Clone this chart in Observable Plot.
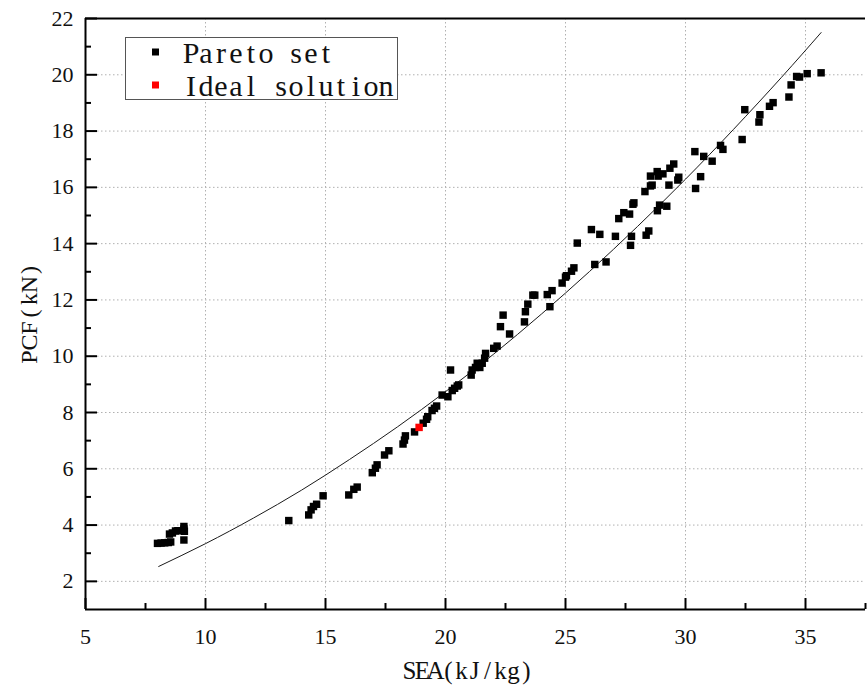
<!DOCTYPE html>
<html><head><meta charset="utf-8">
<script src="https://cdn.jsdelivr.net/npm/d3@7"></script>
<script src="https://cdn.jsdelivr.net/npm/@observablehq/plot@0.6"></script>
<style>
body{margin:0;background:#fff;}
#wrap{position:relative;width:867px;height:688px;}
</style></head><body><div id="wrap"></div>
<script>
// ---- data ----
const paretoSEA = [
8.00, 8.15, 8.30, 8.45, 8.55,
8.50, 8.62, 8.75, 8.85,
9.10, 9.10, 9.12, 9.10,
13.47, 14.30, 14.40, 14.50, 14.63, 14.90,
15.97, 16.18, 16.32,
16.95, 17.08, 17.15, 17.46, 17.64,
18.23, 18.29, 18.33, 18.71,
19.07, 19.21, 19.26, 19.44, 19.54, 19.63,
19.86, 20.10, 20.21, 20.28, 20.38, 20.49, 20.55,
21.07, 21.11, 21.25, 21.32, 21.43, 21.53, 21.63, 21.67,
22.01, 22.15, 22.29, 22.40, 22.67,
23.29, 23.33, 23.43, 23.64, 23.72,
24.24, 24.44, 24.35, 24.86, 25.00, 25.04, 25.25, 25.35, 25.49,
26.22, 26.69, 26.08, 26.43, 27.08,
27.22, 27.43, 27.67, 27.81, 27.85, 27.75, 27.71,
28.36, 28.47, 28.31, 28.54, 28.61,
28.54, 28.82, 28.86, 29.06, 28.83, 28.92, 29.22,
29.31, 29.35, 29.51, 29.68, 29.72,
30.39, 30.42, 30.63, 30.76, 31.11, 31.46, 31.56,
32.36, 32.47, 33.06, 33.10, 33.50, 33.65,
34.31, 34.40, 34.63, 34.75, 35.07, 35.65
];
const paretoPCF = [
3.35, 3.36, 3.37, 3.38, 3.40,
3.68, 3.72, 3.79, 3.80,
3.95, 3.86, 3.78, 3.47,
4.16, 4.36, 4.54, 4.66, 4.74, 5.04,
5.07, 5.27, 5.35,
5.86, 6.02, 6.14, 6.49, 6.64,
6.88, 7.02, 7.17, 7.31,
7.62, 7.76, 7.85, 8.07, 8.15, 8.23,
8.62, 8.56, 9.51, 8.78, 8.86, 8.94, 8.98,
9.33, 9.51, 9.60, 9.75, 9.60, 9.75, 9.93, 10.10,
10.28, 10.36, 11.05, 11.46, 10.79,
11.22, 11.58, 11.85, 12.17, 12.17,
12.19, 12.33, 11.76, 12.60, 12.81, 12.86, 13.02, 13.14, 14.02,
13.26, 13.35, 14.50, 14.33, 14.26,
14.89, 15.10, 15.05, 15.40, 15.45, 14.26, 13.94,
14.30, 14.45, 15.85, 16.05, 16.08,
16.40, 16.56, 16.40, 16.48, 15.17, 15.37, 15.33,
16.08, 16.68, 16.83, 16.26, 16.36,
17.27, 15.96, 16.38, 17.10, 16.93, 17.49, 17.35,
17.70, 18.76, 18.32, 18.58, 18.88, 19.01,
19.21, 19.64, 19.94, 19.92, 20.04, 20.07
];
const idealSEA = [18.90];
const idealPCF = [7.47];
const fitSEA = [8.05, 10, 12, 14, 16, 18, 20, 22, 24, 26, 28, 30, 32, 34, 35.65];
const fitPCF = [2.53, 3.34, 4.25, 5.24, 6.33, 7.49, 8.74, 10.07, 11.50, 13.01, 14.61, 16.29, 18.06, 19.91, 21.50];
const xMajorTicks = [5, 10, 15, 20, 25, 30, 35];
const xMinorTicks = [7.5, 12.5, 17.5, 22.5, 27.5, 32.5, 37.5];
const yMajorTicks = [2, 4, 6, 8, 10, 12, 14, 16, 18, 20, 22];
const yMinorTicks = [3, 5, 7, 9, 11, 13, 15, 17, 19, 21];
const xDomain = [5, 37.5];
const yDomain = [1, 22];
const legendLabels = ["Pareto set", "Ideal solution"];
const legendColors = ["#000000", "#ff0000"];
const xLabel = "SEA(kJ/kg)";
const yLabel = "PCF(kN)";

// ---- layout ----
const W = 867, H = 688, mL = 85, mR = 2, mT = 18, mB = 79;
const plotW = W - mL - mR, plotH = H - mT - mB;
const serif = "'Liberation Serif', 'Times New Roman', serif";

const pareto = paretoSEA.map((x, i) => ({x, y: paretoPCF[i]}));
const ideal = idealSEA.map((x, i) => ({x, y: idealPCF[i]}));
const fit = fitSEA.map((x, i) => ({x, y: fitPCF[i]}));
const gridStyle = {stroke: "#b0b0b0", strokeWidth: 1, strokeDasharray: "1.5,2.5"};

const chart = Plot.plot({
  width: W, height: H,
  marginLeft: mL, marginRight: mR, marginTop: mT, marginBottom: mB,
  style: {fontFamily: serif, fontSize: "22px", background: "#fff", color: "#111", overflow: "visible"},
  x: {domain: xDomain, axis: null},
  y: {domain: yDomain, axis: null},
  marks: [
    Plot.ruleX(xMajorTicks.filter(d => d > xDomain[0]), {x: d => d, ...gridStyle}),
    Plot.ruleY(yMajorTicks.filter(d => d < yDomain[1]), {y: d => d, ...gridStyle}),
    Plot.line(fit, {x: "x", y: "y", curve: "natural", stroke: "#1a1a1a", strokeWidth: 1}),
    Plot.dot(pareto, {x: "x", y: "y", symbol: "square", r: 4.2, fill: legendColors[0], stroke: null}),
    Plot.dot(ideal, {x: "x", y: "y", symbol: "square", r: 4.2, fill: legendColors[1], stroke: null}),
    Plot.ruleX([xDomain[0]], {x: d => d, stroke: "#000", strokeWidth: 2}),
    Plot.ruleY([yDomain[0]], {y: d => d, stroke: "#000", strokeWidth: 2}),
    Plot.ruleY([yDomain[1]], {y: d => d, stroke: "#000", strokeWidth: 2}),
    Plot.tickX(xMajorTicks, {x: d => d, insetTop: plotH - 11, stroke: "#000", strokeWidth: 2}),
    Plot.tickX(xMinorTicks, {x: d => d, insetTop: plotH - 6, stroke: "#000", strokeWidth: 2}),
    Plot.tickY(yMajorTicks, {y: d => d, insetRight: plotW - 12, stroke: "#000", strokeWidth: 2}),
    Plot.tickY(yMinorTicks, {y: d => d, insetRight: plotW - 6, stroke: "#000", strokeWidth: 2}),
    Plot.text(xMajorTicks, {x: d => d, text: d => String(d), frameAnchor: "bottom", lineAnchor: "middle", textAnchor: "middle", dy: 27, fontSize: 22, fill: "#111"}),
    Plot.text(yMajorTicks, {y: d => d, text: d => String(d), frameAnchor: "left", lineAnchor: "middle", dx: -12, textAnchor: "end", fontSize: 22, fill: "#111"})
  ]
});
const wrap = document.getElementById("wrap");
wrap.appendChild(chart);

// ---- overlay: axis titles and legend (monospaced cell layout like the original font) ----
const lg = d3.create("svg").attr("width", W).attr("height", H)
  .style("position", "absolute").style("left", "0").style("top", "0").style("pointer-events", "none");

function monoText(parent, str, cx0, cell, y, size) {
  const chars = Array.from(str);
  return parent.append("text")
    .attr("x", chars.map((c, i) => (cx0 + i * cell).toFixed(1)).join(" "))
    .attr("y", y)
    .attr("text-anchor", "middle")
    .attr("font-family", serif)
    .attr("font-size", size)
    .attr("fill", "#111")
    .text(str);
}

// x title, centred under the plot
{
  const cell = 13, n = Array.from(xLabel).length, cx = 468;
  monoText(lg, xLabel, cx - (n - 1) / 2 * cell, cell, 678.5, 25);
}
// y title, rotated
{
  const cell = 14.5, n = Array.from(yLabel).length;
  const g = lg.append("g").attr("transform", `translate(36.5,${(mT + H - mB) / 2}) rotate(-90)`);
  monoText(g, yLabel, -(n - 1) / 2 * cell, cell, 0, 24);
}

// legend
lg.append("rect").attr("x", 125.5).attr("y", 37.5).attr("width", 272).attr("height", 62)
  .attr("fill", "#fff").attr("stroke", "#555").attr("stroke-width", 1);
legendLabels.forEach((lab, i) => {
  const cy = 52 + i * 33;
  lg.append("rect").attr("x", 152).attr("y", cy - 3.5).attr("width", 7).attr("height", 7).attr("fill", legendColors[i]);
  monoText(lg, lab, 191, 15, cy + 11.3, 30);
});
wrap.appendChild(lg.node());
</script></body></html>
